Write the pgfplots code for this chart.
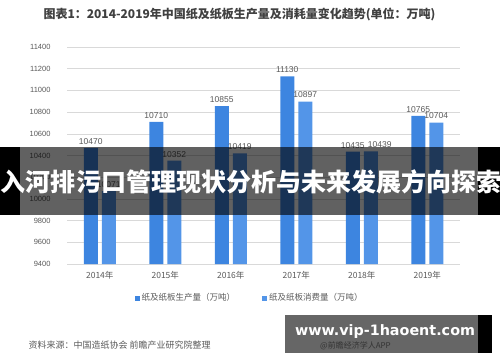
\documentclass[border=0pt]{standalone}
\usepackage{fontspec}
\setmainfont{Noto Sans CJK SC}
\newfontfamily\wmfont{DejaVu Sans}
\newfontfamily\numfont{Liberation Sans}
\usepackage{pgfplots}
\pgfplotsset{compat=1.18}
\definecolor{prodc}{HTML}{3D85E0}
\definecolor{consc}{HTML}{5395E8}
\definecolor{tickc}{HTML}{595959}
\definecolor{gridc}{HTML}{D9D9D9}
\definecolor{titlec}{HTML}{404040}
\begin{document}
\begin{tikzpicture}[x=1pt,y=1pt]
\path[use as bounding box] (0,0) rectangle (500,362);
\begin{axis}[at={(67pt,98pt)}, anchor=south west, scale only axis,
  width=393pt, height=217pt,
  ybar=4pt, bar width=14pt,
  xmin=-0.5, xmax=5.5, ymin=9400, ymax=11400,
  ytick={9400,9600,...,11400},
  scaled y ticks=false,
  xtick={0,...,5},
  xticklabels={2014年,2015年,2016年,2017年,2018年,2019年},
  ymajorgrids, grid style={gridc, line width=0.6pt},
  axis line style={draw=none}, major tick style={draw=none},
  xticklabel style={font=\fontsize{8.5}{10}\selectfont, text=tickc},
  yticklabel style={font=\numfont\fontsize{7.5}{8}\selectfont, text=tickc, xshift=-13pt},
  /pgf/number format/assume math mode=true,
  /pgf/number format/1000 sep={},
  nodes near coords,
  nodes near coords style={font=\numfont\fontsize{8.5}{10}\selectfont, text=tickc},
  legend columns=2,
  legend style={at={(0.465,-0.157)}, anchor=center, draw=none, fill=none,
    font=\fontsize{8.5}{10}\selectfont, text=tickc,
    /tikz/every even column/.append style={column sep=25pt}},
  legend image code/.code={\fill[#1] (0pt,-2.5pt) rectangle (5pt,2.5pt);},
]
\addplot[fill=prodc, draw=none] coordinates {(0,10470) (1,10710) (2,10855) (3,11130) (4,10435) (5,10765)};
\addplot[fill=consc, draw=none, visualization depends on={x \as \myx},
  nodes near coords style={xshift={ifthenelse(\myx==4,9,0)}}]
  coordinates {(0,10071) (1,10352) (2,10419) (3,10897) (4,10439) (5,10704)};
\legend{纸及纸板生产量（万吨）,纸及纸板消费量（万吨）}
\end{axis}
\node[anchor=west, font=\bfseries\fontsize{12}{14}\selectfont, text=titlec] at (40,348) {图表1：2014-2019年中国纸及纸板生产量及消耗量变化趋势(单位：万吨)};
\node[anchor=west, font=\fontsize{9}{11}\selectfont, text=tickc] at (25,17) {资料来源：中国造纸协会 前瞻产业研究院整理};
% banner
\fill[black, opacity=0.62] (20,147) rectangle (478,215);
\fill[black] (0,147) rectangle (20,215);
\fill[black] (478,147) rectangle (500,215);
\node[text=white, font=\bfseries\fontsize{25}{27}\selectfont, inner sep=0pt] at (251,180) {入河排污口管理现状分析与未来发展方向探索};
% watermark box
\node[anchor=west, font=\fontsize{8}{9}\selectfont, text=gray, inner sep=0pt] at (320,16) {@前瞻经济学人APP};
\fill[black, opacity=0.6] (285,9) rectangle (478,47);
\fill[black] (478,9) rectangle (492,47);
\node[text=white, font=\wmfont\bfseries, inner sep=0pt] at (385,30) {\resizebox{180pt}{!}{www.vip-1haoent.com}};
\end{tikzpicture}
\end{document}
